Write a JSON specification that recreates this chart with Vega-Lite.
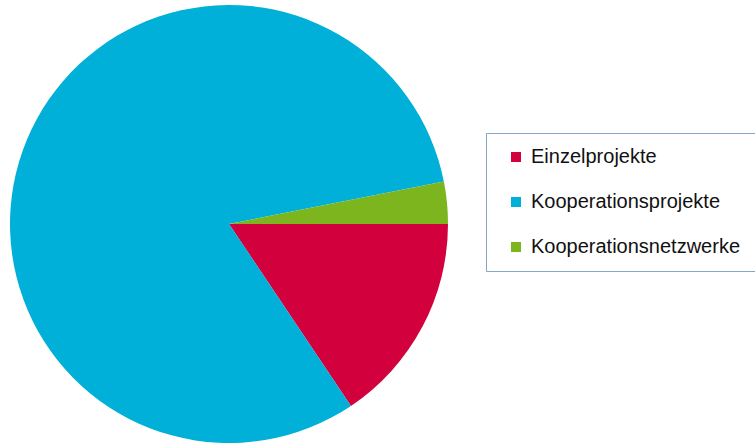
{
  "$schema": "https://vega.github.io/schema/vega-lite/v6.json",
  "width": 458,
  "height": 448,
  "padding": 0,
  "background": "white",
  "config": {"view": {"stroke": null}},
  "data": {
    "values": [
      {"kategorie": "Einzelprojekte", "anteil": 15.6, "reihenfolge": 1},
      {"kategorie": "Kooperationsprojekte", "anteil": 81.3, "reihenfolge": 2},
      {"kategorie": "Kooperationsnetzwerke", "anteil": 3.1, "reihenfolge": 3}
    ]
  },
  "mark": {"type": "arc", "outerRadius": 219},
  "encoding": {
    "theta": {
      "field": "anteil",
      "type": "quantitative",
      "stack": true,
      "scale": {"range": [1.5708, 7.854]}
    },
    "order": {"field": "reihenfolge", "type": "ordinal"},
    "color": {
      "field": "kategorie",
      "type": "nominal",
      "sort": ["Einzelprojekte", "Kooperationsprojekte", "Kooperationsnetzwerke"],
      "scale": {
        "domain": ["Einzelprojekte", "Kooperationsprojekte", "Kooperationsnetzwerke"],
        "range": ["#D2003C", "#00B0D8", "#7DB51E"]
      },
      "legend": {
        "title": null,
        "orient": "none",
        "legendX": 486,
        "legendY": 133,
        "padding": 14,
        "strokeColor": "#86A8C8",
        "fillColor": "white",
        "symbolType": "square",
        "symbolSize": 100,
        "symbolStrokeWidth": 0,
        "symbolOffset": 6,
        "labelOffset": 5,
        "labelFont": "Liberation Sans",
        "labelFontSize": 20,
        "labelColor": "#111111",
        "labelLimit": 400,
        "rowPadding": 25
      }
    }
  }
}
